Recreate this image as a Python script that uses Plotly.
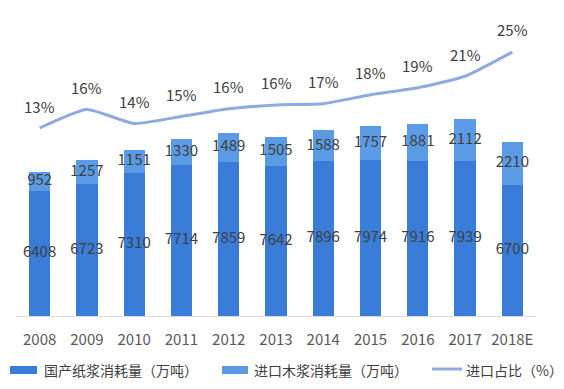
import plotly.graph_objects as go

years = ["2008", "2009", "2010", "2011", "2012", "2013", "2014", "2015", "2016", "2017", "2018E"]
domestic = [6408, 6723, 7310, 7714, 7859, 7642, 7896, 7974, 7916, 7939, 6700]
imported = [952, 1257, 1151, 1330, 1489, 1505, 1588, 1757, 1881, 2112, 2210]
import_pct = [12.9, 15.8, 13.6, 14.7, 15.9, 16.5, 16.7, 18.1, 19.2, 21.0, 24.8]
pct_labels = ["13%", "16%", "14%", "15%", "16%", "16%", "17%", "18%", "19%", "21%", "25%"]
legend_names = ["国产纸浆消耗量（万吨）", "进口木浆消耗量（万吨）", "进口占比（%）"]

FONT = "Noto Sans CJK SC"
C_DOM = "#3a7dd8"
C_IMP = "#5b9be6"
C_LINE = "#8eabe0"
TXT = "#404040"

idx = list(range(len(years)))

fig = go.Figure()
fig.add_trace(go.Bar(x=idx, y=domestic, name=legend_names[0], marker_color=C_DOM,
                     marker_line_width=0))
fig.add_trace(go.Bar(x=idx, y=imported, name=legend_names[1], marker_color=C_IMP,
                     marker_line_width=0))
fig.add_trace(go.Scatter(x=idx, y=import_pct, name=legend_names[2], mode="lines",
                         line=dict(color=C_LINE, width=3, shape="spline", smoothing=0.5),
                         yaxis="y2"))

# value labels centered in each segment
fig.add_trace(go.Scatter(x=idx, y=[d / 2 for d in domestic], mode="text",
                         text=[str(v) for v in domestic], showlegend=False,
                         textfont=dict(family=FONT, size=15, color=TXT), hoverinfo="skip"))
fig.add_trace(go.Scatter(x=idx, y=[d + i / 2 for d, i in zip(domestic, imported)], mode="text",
                         text=[str(v) for v in imported], showlegend=False,
                         textfont=dict(family=FONT, size=15, color=TXT), hoverinfo="skip"))

for i, (p, lab) in enumerate(zip(import_pct, pct_labels)):
    fig.add_annotation(x=i, y=p, xref="x", yref="y2", text=lab, showarrow=False,
                       yshift=22, font=dict(family=FONT, size=15, color=TXT))

# manual legend (plot area on the page: x 16..536 px, y 20..316 px)
def px_x(px):
    return (px - 16) / 520.0

def px_y(py):
    return (316 - py) / 296.0

legend_y = 370
fig.add_shape(type="rect", xref="paper", yref="paper", x0=px_x(10), x1=px_x(37),
              y0=px_y(374), y1=px_y(366), fillcolor=C_DOM, line_width=0)
fig.add_shape(type="rect", xref="paper", yref="paper", x0=px_x(222), x1=px_x(248),
              y0=px_y(374), y1=px_y(366), fillcolor=C_IMP, line_width=0)
fig.add_shape(type="line", xref="paper", yref="paper", x0=px_x(432), x1=px_x(462),
              y0=px_y(369), y1=px_y(369), line=dict(color=C_LINE, width=3))
for name, xs in zip(legend_names, [42, 252, 464]):
    fig.add_annotation(xref="paper", yref="paper", x=px_x(xs), y=px_y(legend_y), text=name,
                       showarrow=False, xanchor="left", yanchor="middle",
                       font=dict(family=FONT, size=14, color=TXT))

# page body has an 8px margin, so the figure is 8px smaller and margins shifted
fig.update_layout(
    width=556, height=381,
    margin=dict(l=8, r=28, t=12, b=73),
    paper_bgcolor="white", plot_bgcolor="white",
    barmode="stack", bargap=0.55,
    font=dict(family=FONT, size=15, color=TXT),
    showlegend=False,
    xaxis=dict(showgrid=False, showline=True, linecolor="#d9d9d9", linewidth=1,
               ticks="", tickfont=dict(family=FONT, size=15, color="#595959"),
               tickmode="array", tickvals=idx, ticktext=years,
               ticklabelstandoff=10, range=[-0.5, 10.5], zeroline=False),
    yaxis=dict(range=[0, 15126], showgrid=False, showticklabels=False, zeroline=False,
               showline=False),
    yaxis2=dict(range=[-16.52, 29.8], overlaying="y", side="right", showgrid=False,
                showticklabels=False, zeroline=False, showline=False),
)

fig.write_html("out.html")
